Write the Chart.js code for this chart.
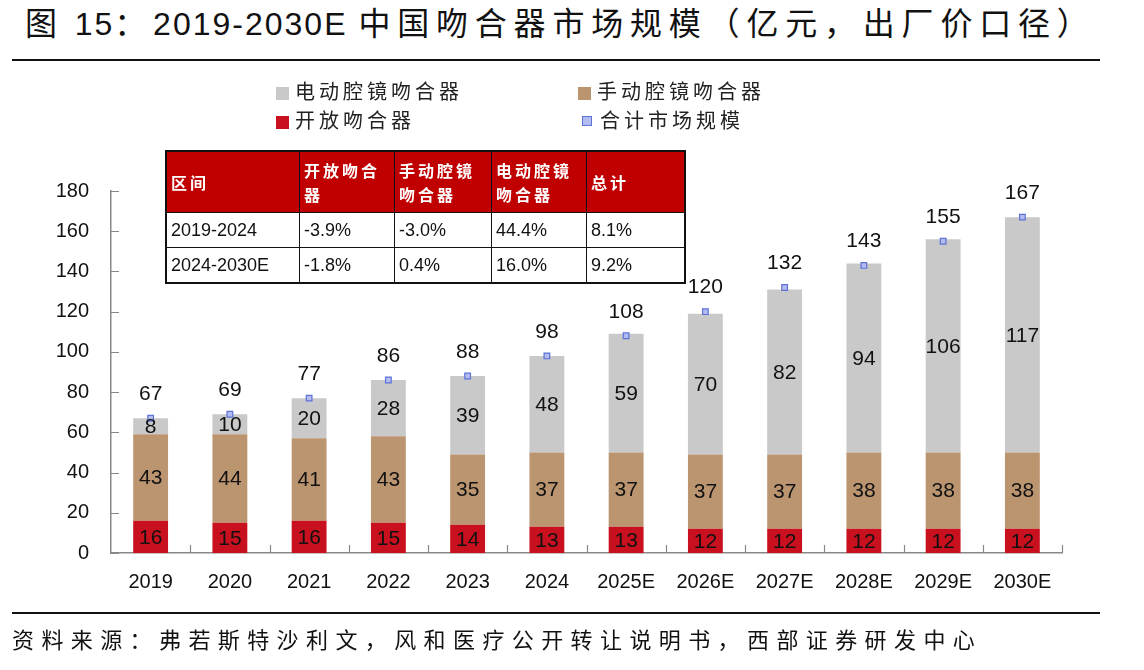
<!DOCTYPE html>
<html>
<head>
<meta charset="utf-8">
<script src="https://cdn.jsdelivr.net/npm/chart.js@4"></script>
<style>
  body { margin: 0; background: #fff; width: 1144px; height: 670px; position: relative; overflow: hidden;
         font-family: "Liberation Sans", "Noto Sans CJK SC", sans-serif; color: #111; }
  #title { position: absolute; left: 25px; top: -2px; font-size: 32px; letter-spacing: 2px; white-space: nowrap; }
  #title .cjk { letter-spacing: 6.8px; }
  .rule { position: absolute; left: 12px; width: 1088px; height: 2px; background: #111; }
  #legend { position: absolute; left: 276px; top: 77px; font-family: "Noto Sans CJK SC", sans-serif;
            font-size: 20px; letter-spacing: 4px; color: #222; }
  .lg { position: absolute; white-space: nowrap; line-height: 28px; }
  .lg i { display: inline-block; width: 13px; height: 13px; margin-right: 6px; vertical-align: -1px; }
  #wrap { position: absolute; left: 0; top: 0; width: 1144px; height: 670px; }
  #rates { position: absolute; left: 165px; top: 150px; border-collapse: collapse; border: 2px solid #111; }
  #rates td { border: 1px solid #111; padding: 0 4px; font-size: 18px; height: 34px; background: #fff; }
  #rates tr.head td { background: #c00000; color: #fff; font-family: "Noto Sans CJK SC", sans-serif;
                      font-weight: bold; font-size: 16px; letter-spacing: 3px; height: 60px; line-height: 24px; }
  #source { position: absolute; left: 12px; top: 622px; font-family: "Noto Sans CJK SC", sans-serif;
            font-size: 22px; letter-spacing: 7.4px; white-space: nowrap; }
</style>
</head>
<body>
<div id="title"><span class="cjk">图</span> 15<span class="cjk">：</span>2019-2030E <span class="cjk">中国吻合器市场规模（亿元，出厂价口径）</span></div>
<div class="rule" style="top:59px"></div>
<div id="wrap"><canvas id="chartCanvas" width="1144" height="670"></canvas></div>
<div id="legend"></div>
<table id="rates"></table>
<div class="rule" style="top:612px"></div>
<div id="source">资料来源：弗若斯特沙利文，风和医疗公开转让说明书，西部证券研发中心</div>
<script>
// Chart data
const years = ['2019', '2020', '2021', '2022', '2023', '2024', '2025E', '2026E', '2027E', '2028E', '2029E', '2030E'];
const openStapler = [16, 15, 16, 15, 14, 13, 13, 12, 12, 12, 12, 12];
const manualStapler = [43, 44, 41, 43, 35, 37, 37, 37, 37, 38, 38, 38];
const electricStapler = [8, 10, 20, 28, 39, 48, 59, 70, 82, 94, 106, 117];
const totalMarket = [67, 69, 77, 86, 88, 98, 108, 120, 132, 143, 155, 167];

// CAGR table
const tableHeader = ['区间', '开放吻合器', '手动腔镜吻合器', '电动腔镜吻合器', '总计'];
const tableRows = [
  ['2019-2024', '-3.9%', '-3.0%', '44.4%', '8.1%'],
  ['2024-2030E', '-1.8%', '0.4%', '16.0%', '9.2%']
];

const colWidths = [124, 86, 88, 86, 89];
const headBreaks = ['区间', '开放吻合<br>器', '手动腔镜<br>吻合器', '电动腔镜<br>吻合器', '总计'];

// Build table
const rates = document.getElementById('rates');
let html = '<tr class="head">';
tableHeader.forEach(function(h, i) {
  html += '<td style="width:' + colWidths[i] + 'px">' + headBreaks[i] + '</td>';
});
html += '</tr>';
tableRows.forEach(function(row) {
  html += '<tr>' + row.map(function(c) { return '<td>' + c + '</td>'; }).join('') + '</tr>';
});
rates.innerHTML = html;

const numFont = '"Liberation Sans", Arial, sans-serif';

// Labels inside bars and above total points, plus inward axis ticks
const labelPlugin = {
  id: 'labelPlugin',
  afterDatasetsDraw(chart) {
    const ctx = chart.ctx;
    ctx.save();
    ctx.fillStyle = '#111';
    ctx.textAlign = 'center';
    ctx.textBaseline = 'middle';
    ctx.font = '21px ' + numFont;
    for (let d = 0; d < 3; d++) {
      chart.getDatasetMeta(d).data.forEach(function(bar, i) {
        const y = (bar.y + bar.base) / 2;
        ctx.fillText(chart.data.datasets[d].data[i], bar.x, y + 1);
      });
    }
    chart.getDatasetMeta(3).data.forEach(function(pt, i) {
      ctx.fillText(totalMarket[i], pt.x, pt.y - 24);
    });

    // inward tick marks
    const x = chart.scales.x, y = chart.scales.y;
    ctx.strokeStyle = '#888';
    ctx.lineWidth = 1.2;
    ctx.beginPath();
    const step = (x.right - x.left) / years.length;
    for (let i = 1; i <= years.length; i++) {
      const px = Math.round(x.left + i * step) + 0.5;
      ctx.moveTo(px, y.bottom);
      ctx.lineTo(px, y.bottom - 8);
    }
    y.ticks.forEach(function(t) {
      const py = Math.round(y.getPixelForValue(t.value)) + 0.5;
      ctx.moveTo(x.left, py);
      ctx.lineTo(x.left + 8, py);
    });
    ctx.stroke();
    ctx.restore();
  }
};

const chart = new Chart(document.getElementById('chartCanvas'), {
  data: {
    labels: years,
    datasets: [
      { type: 'bar', label: '开放吻合器', data: openStapler, backgroundColor: '#c8101e', stack: 's', order: 1 },
      { type: 'bar', label: '手动腔镜吻合器', data: manualStapler, backgroundColor: '#bb9470', stack: 's', order: 2 },
      { type: 'bar', label: '电动腔镜吻合器', data: electricStapler, backgroundColor: '#c9c9c9', stack: 's', order: 3 },
      { type: 'line', label: '合计市场规模', data: totalMarket, showLine: false, stack: 't', order: 0,
        pointStyle: 'rect', pointRadius: 4, pointBackgroundColor: '#b3bcf0', pointBorderColor: '#5d72d6', pointBorderWidth: 1.2 }
    ]
  },
  options: {
    responsive: false,
    animation: false,
    layout: { padding: { left: 0, right: 82, top: 191, bottom: 0 } },
    datasets: { bar: { categoryPercentage: 1, barPercentage: 0.44 } },
    plugins: {
      legend: { display: false },
      tooltip: { enabled: false }
    },
    scales: {
      x: {
        stacked: true,
        grid: { display: false, drawTicks: false },
        border: { display: true, color: '#888', width: 1.5 },
        ticks: { color: '#111', font: { family: numFont, size: 20 }, padding: 17, maxRotation: 0, autoSkip: false },
        afterFit(scale) { scale.height = 117; }
      },
      y: {
        stacked: true,
        min: 0, max: 180,
        grid: { display: false, drawTicks: false },
        border: { display: true, color: '#888', width: 1.5 },
        ticks: { stepSize: 20, color: '#111', font: { family: numFont, size: 20 }, padding: 22 },
        afterFit(scale) { scale.width = 111; }
      }
    }
  },
  plugins: [labelPlugin]
});

// HTML legend, two items per row
const legendEl = document.getElementById('legend');
const legendPos = [[2, 0, 0], [1, 302, 0], [0, 0, 29], [3, 302, 29]];
legendPos.forEach(function(p) {
  const ds = chart.data.datasets[p[0]];
  const item = document.createElement('div');
  item.className = 'lg';
  item.style.left = p[1] + 'px';
  item.style.top = p[2] + 'px';
  const mark = document.createElement('i');
  if (ds.type === 'line') {
    mark.style.cssText = 'width:8px;height:8px;background:' + ds.pointBackgroundColor +
      ';border:1px solid ' + ds.pointBorderColor + ';margin-left:4px;margin-right:8px;vertical-align:2px';
  } else {
    mark.style.background = ds.backgroundColor;
  }
  item.appendChild(mark);
  item.appendChild(document.createTextNode(ds.label));
  legendEl.appendChild(item);
});
</script>
</body>
</html>
